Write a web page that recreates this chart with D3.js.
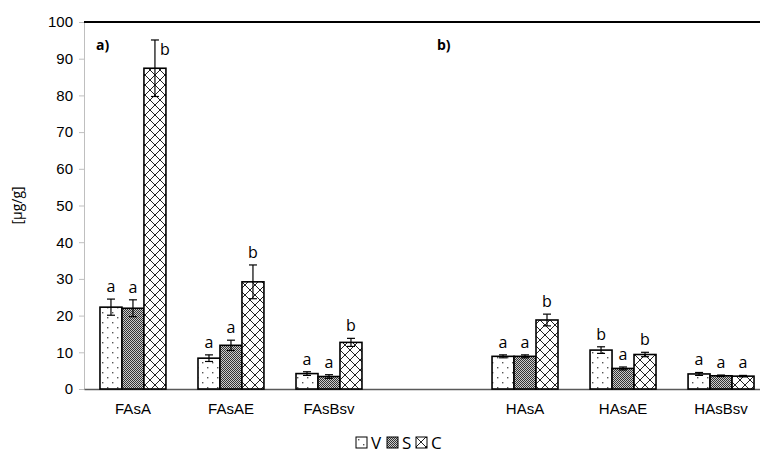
<!DOCTYPE html>
<html>
<head>
<meta charset="utf-8">
<script src="https://cdn.jsdelivr.net/npm/d3@7"></script>
<style>
  body { margin: 0; background: #fff; }
  svg { font-family: "Open Sans", "Liberation Sans", sans-serif; }
</style>
</head>
<body>
<div id="chart"></div>
<script>
// categories (blank one is the gap between panel a and panel b)
const categories = ["FAsA", "FAsAE", "FAsBsv", "gap", "HAsA", "HAsAE", "HAsBsv"];
const seriesNames = ["V", "S", "C"];

const valuesV = [22.3, 8.4, 4.2, null, 8.9, 10.6, 4.1];
const valuesS = [22.0, 11.9, 3.4, null, 8.9, 5.6, 3.6];
const valuesC = [87.4, 29.2, 12.7, null, 18.8, 9.4, 3.5];

const errV = [2.2, 0.9, 0.5, null, 0.4, 0.9, 0.4];
const errS = [2.3, 1.4, 0.5, null, 0.4, 0.4, 0.2];
const errC = [7.7, 4.6, 1.1, null, 1.6, 0.6, 0.2];

const lettersV = ["a", "a", "a", null, "a", "b", "a"];
const lettersS = ["a", "a", "a", null, "a", "a", "a"];
const lettersC = ["b", "b", "b", null, "b", "b", "a"];

const yTicks = [0, 10, 20, 30, 40, 50, 60, 70, 80, 90, 100];
const panelLabels = ["a)", "b)"];

const W = 760, H = 461;
const margin = { top: 22, right: -10, bottom: 72, left: 84 };

const svg = d3.select("#chart").append("svg")
  .attr("width", W).attr("height", H);

// fill patterns
const defs = svg.append("defs");
const pV = defs.append("pattern").attr("id", "patV").attr("patternUnits", "userSpaceOnUse")
  .attr("width", 10).attr("height", 10);
pV.append("rect").attr("width", 10).attr("height", 10).attr("fill", "#fff");
pV.append("rect").attr("x", 2).attr("y", 2).attr("width", 1.4).attr("height", 1.4).attr("fill", "#555");
pV.append("rect").attr("x", 7).attr("y", 7).attr("width", 1.4).attr("height", 1.4).attr("fill", "#555");

const pS = defs.append("pattern").attr("id", "patS").attr("patternUnits", "userSpaceOnUse")
  .attr("width", 2).attr("height", 2);
pS.append("rect").attr("width", 2).attr("height", 2).attr("fill", "#ccc");
pS.append("rect").attr("width", 1).attr("height", 1).attr("fill", "#333");
pS.append("rect").attr("x", 1).attr("y", 1).attr("width", 1).attr("height", 1).attr("fill", "#333");

const pC = defs.append("pattern").attr("id", "patC").attr("patternUnits", "userSpaceOnUse")
  .attr("width", 10).attr("height", 10);
pC.append("rect").attr("width", 10).attr("height", 10).attr("fill", "#fff");
pC.append("path").attr("d", "M0,0L10,10M0,10L10,0M-1,9L1,11M9,-1L11,1")
  .attr("stroke", "#222").attr("stroke-width", 1);

const fills = ["url(#patV)", "url(#patS)", "url(#patC)"];

const x = d3.scaleBand()
  .domain(categories)
  .range([margin.left, W - margin.right])
  .paddingInner(0.327)
  .paddingOuter(0.163);

const xs = d3.scaleBand()
  .domain(seriesNames)
  .range([0, x.bandwidth()]);

const y = d3.scaleLinear()
  .domain([0, 100])
  .range([H - margin.bottom, margin.top]);

// y axis
const yAxis = svg.append("g")
  .attr("transform", `translate(${margin.left},0)`)
  .call(d3.axisLeft(y).tickValues(yTicks).tickSize(5).tickPadding(6));
yAxis.select(".domain").attr("stroke", "#bfbfbf");
yAxis.selectAll(".tick line").attr("stroke", "#bfbfbf");
yAxis.selectAll(".tick text").attr("font-size", 15).attr("fill", "#000");

// top border
svg.append("line")
  .attr("x1", margin.left).attr("x2", W)
  .attr("y1", y(100)).attr("y2", y(100))
  .attr("stroke", "#000").attr("stroke-width", 2);

// x axis
const xAxis = svg.append("g")
  .attr("transform", `translate(0,${y(0)})`)
  .call(d3.axisBottom(x).tickSize(0).tickPadding(14)
    .tickFormat(d => d === "gap" ? "" : d));
xAxis.select(".domain").attr("stroke", "#595959").attr("stroke-width", 1.5);
xAxis.selectAll(".tick text").attr("font-size", 15).attr("fill", "#000");

// y label
svg.append("text")
  .attr("transform", `translate(22,${y(50)}) rotate(-90)`)
  .attr("text-anchor", "middle")
  .attr("font-size", 14)
  .text("[µg/g]");

// panel labels
svg.append("text").attr("x", 96).attr("y", 50)
  .attr("font-size", 14).attr("font-weight", "bold").text(panelLabels[0]);
svg.append("text").attr("x", 437).attr("y", 50)
  .attr("font-size", 14).attr("font-weight", "bold").text(panelLabels[1]);

const series = [
  { name: "V", values: valuesV, err: errV, letters: lettersV },
  { name: "S", values: valuesS, err: errS, letters: lettersS },
  { name: "C", values: valuesC, err: errC, letters: lettersC }
];

const rows = [];
series.forEach((s, si) => {
  categories.forEach((c, ci) => {
    if (s.values[ci] == null) return;
    rows.push({ cat: c, series: s.name, si, v: s.values[ci], e: s.err[ci], l: s.letters[ci] });
  });
});

const g = svg.append("g");

g.selectAll("rect.bar").data(rows).enter().append("rect")
  .attr("class", "bar")
  .attr("x", d => x(d.cat) + xs(d.series))
  .attr("y", d => y(d.v))
  .attr("width", xs.bandwidth())
  .attr("height", d => y(0) - y(d.v))
  .attr("fill", d => fills[d.si])
  .attr("stroke", "#000")
  .attr("stroke-width", 1.6);

// error bars
const cap = 4;
const eb = g.selectAll("g.err").data(rows).enter().append("g").attr("class", "err");
eb.append("line")
  .attr("x1", d => x(d.cat) + xs(d.series) + xs.bandwidth() / 2)
  .attr("x2", d => x(d.cat) + xs(d.series) + xs.bandwidth() / 2)
  .attr("y1", d => y(d.v - d.e)).attr("y2", d => y(d.v + d.e))
  .attr("stroke", "#000").attr("stroke-width", 1.2);
[d => d.v - d.e, d => d.v + d.e].forEach(f => {
  eb.append("line")
    .attr("x1", d => x(d.cat) + xs(d.series) + xs.bandwidth() / 2 - cap)
    .attr("x2", d => x(d.cat) + xs(d.series) + xs.bandwidth() / 2 + cap)
    .attr("y1", d => y(f(d))).attr("y2", d => y(f(d)))
    .attr("stroke", "#000").attr("stroke-width", 1.2);
});

// significance letters
const nearTop = d => y(d.v + d.e) < y(90);
g.selectAll("text.letter").data(rows).enter().append("text")
  .attr("class", "letter")
  .attr("font-size", 16)
  .attr("text-anchor", d => nearTop(d) ? "start" : "middle")
  .attr("x", d => x(d.cat) + xs(d.series) + xs.bandwidth() / 2 + (nearTop(d) ? 5 : 0))
  .attr("y", d => nearTop(d) ? y(d.v + d.e) + 15 : y(d.v + d.e) - 7)
  .text(d => d.l);

// legend
const legend = svg.append("g").attr("transform", "translate(356,437)");
const legX = [0, 31, 60];
seriesNames.forEach((n, i) => {
  const lg = legend.append("g").attr("transform", `translate(${legX[i]},0)`);
  lg.append("rect").attr("width", 11).attr("height", 11)
    .attr("fill", fills[i]).attr("stroke", "#000").attr("stroke-width", 1);
  lg.append("text").attr("x", 15).attr("y", 12).attr("font-size", 17).text(n);
});
</script>
</body>
</html>
